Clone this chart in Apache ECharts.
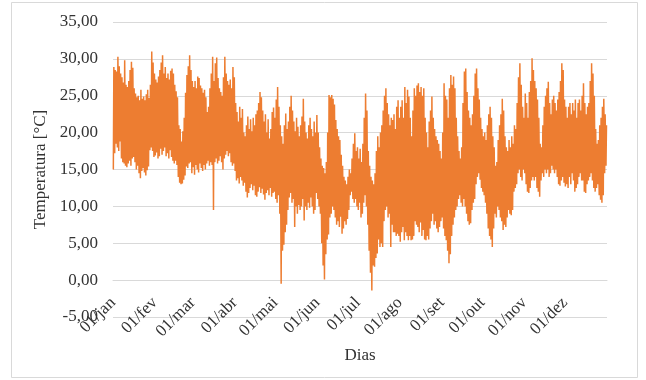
<!DOCTYPE html>
<html>
<head>
<meta charset="utf-8">
<script src="https://cdn.jsdelivr.net/npm/echarts@6/dist/echarts.min.js"></script>
<style>
  html, body { margin: 0; padding: 0; background: #ffffff; }
  #chart { width: 646px; height: 380px; }
</style>
</head>
<body>
<div id="chart"></div>
<script>
// Month tick labels and the day of the year each month starts on
const monthLabels = ['01/jan', '01/fev', '01/mar', '01/abr', '01/mai', '01/jun',
                     '01/jul', '01/ago', '01/set', '01/out', '01/nov', '01/dez'];
const monthStarts = [0, 31, 59, 90, 120, 151, 181, 212, 243, 273, 304, 334];
const daysInYear = 365;

// Temperature axis range (°C)
const tempMin = -5;
const tempMax = 35;
const tempStep = 5;

// Daily maximum / minimum temperatures (°C), one array per month
const janMax = [28.9, 28.5, 28.3, 30.3, 29.0, 28.0, 27.5, 26.8, 29.8, 26.5, 26.2, 27.0, 28.5, 29.6, 28.8, 26.0,
                25.3, 24.8, 25.0, 24.4, 25.8, 24.6, 24.9, 24.4, 25.2, 25.8, 24.7, 26.5, 31.0, 29.5, 28.0];
const janMin = [15.0, 17.2, 18.5, 18.0, 17.5, 18.8, 16.5, 16.0, 15.8, 15.5, 15.3, 15.8, 16.2, 15.5, 16.5, 16.7,
                16.0, 15.0, 15.5, 14.5, 13.8, 14.8, 15.2, 14.6, 14.2, 14.9, 15.4, 17.6, 18.0, 17.5, 16.7];

const fevMax = [27.2, 26.8, 27.6, 28.5, 29.5, 30.5, 28.0, 28.9, 27.4, 28.0, 27.2, 28.4, 28.7, 28.0,
                26.5, 25.6, 24.8, 21.0, 20.5, 18.8, 20.2, 22.0, 25.4, 27.8, 29.0, 30.5, 28.5, 27.0];
const fevMin = [16.9, 17.3, 16.5, 16.8, 17.8, 17.0, 17.5, 18.0, 16.8, 17.2, 16.5, 17.6, 16.7, 16.2,
                15.8, 16.2, 15.6, 14.0, 13.2, 13.0, 13.1, 13.6, 14.2, 15.4, 15.2, 15.8, 16.0, 14.5];

const marMax = [26.2, 27.0, 26.0, 27.6, 27.4, 26.4, 26.0, 25.4, 25.8, 24.8, 22.8, 23.5, 26.0, 28.0, 30.3, 27.0,
                29.4, 30.2, 27.4, 26.0, 25.5, 25.0, 27.5, 30.3, 28.0, 27.0, 26.5, 27.2, 26.0, 28.9, 27.5];
const marMin = [15.3, 14.3, 15.6, 15.0, 14.6, 15.8, 15.2, 14.8, 15.6, 15.0, 15.8, 16.2, 15.5, 16.0, 15.6, 9.5,
                16.0, 16.5, 15.8, 16.2, 16.8, 16.0, 15.0, 16.5, 17.0, 17.5, 16.8, 17.2, 16.0, 15.5, 15.8];

const abrMax = [24.0, 22.8, 21.5, 23.5, 22.0, 23.2, 20.0, 19.5, 21.0, 22.2, 20.5, 21.8, 20.2, 22.0, 21.0,
                22.5, 23.0, 24.0, 25.5, 24.8, 23.0, 21.5, 22.5, 20.0, 21.8, 19.2, 20.5, 22.8, 23.4, 22.0];
const abrMin = [14.8, 13.5, 13.8, 13.1, 14.0, 13.5, 12.8, 13.2, 12.0, 11.2, 11.8, 12.5, 13.0, 12.2, 12.8,
                11.5, 11.3, 12.0, 12.6, 11.8, 12.4, 11.6, 10.9, 11.8, 12.2, 11.5, 12.5, 11.3, 11.8, 12.0];

const maiMax = [24.5, 26.2, 23.5, 21.0, 19.5, 18.5, 21.0, 22.6, 20.5, 21.5, 23.5, 25.0, 23.0, 21.5, 20.2, 22.0,
                20.8, 19.5, 21.0, 22.2, 24.6, 21.5, 20.0, 19.2, 21.0, 22.0, 20.5, 19.5, 21.5, 20.0, 22.4];
const maiMin = [11.0, 10.5, 11.5, 9.0, -0.5, 4.0, 4.8, 6.5, 7.5, 9.5, 11.2, 11.8, 10.5, 11.0, 7.2, 10.0,
                9.0, 10.2, 9.5, 10.0, 11.0, 8.1, 10.0, 9.5, 10.5, 9.8, 11.2, 10.0, 9.0, 9.5, 11.8];

const junMax = [20.0, 18.0, 16.5, 15.5, 15.2, 14.5, 16.0, 20.0, 25.1, 24.8, 25.1, 24.6, 23.8, 21.7, 20.5,
                19.5, 19.0, 17.0, 15.5, 14.0, 13.5, 13.0, 14.0, 15.0, 14.5, 16.5, 18.5, 19.9, 17.5, 18.0];
const junMin = [11.0, 10.0, 9.0, 5.0, 2.0, 0.1, 3.5, 5.5, 6.2, 8.5, 9.0, 10.0, 9.5, 8.5, 7.5,
                8.0, 7.2, 8.6, 6.3, 7.0, 8.0, 7.5, 8.3, 9.5, 11.5, 12.0, 11.0, 10.5, 11.0, 10.0];

const julMax = [16.5, 17.8, 16.0, 18.5, 22.0, 25.3, 23.0, 17.5, 15.5, 14.0, 13.5, 13.0, 14.5, 17.5, 19.5, 18.0,
                20.0, 21.0, 23.0, 25.0, 26.0, 24.0, 22.5, 21.0, 22.0, 21.7, 22.5, 20.5, 23.5, 24.4, 22.0];
const julMin = [9.5, 10.5, 8.5, 9.0, 10.5, 11.5, 10.0, 7.5, 4.0, 1.0, -1.4, 2.0, 1.8, 3.0, 3.6, 5.5,
                4.5, 5.0, 4.5, 8.0, 9.5, 10.0, 8.5, 9.0, 4.5, 7.5, 6.5, 6.5, 6.0, 6.3, 6.0];

const agoMax = [23.5, 24.4, 22.0, 26.2, 24.0, 25.8, 24.9, 22.0, 19.5, 23.0, 26.0, 25.0, 26.4, 26.7, 25.5, 26.2,
                25.0, 26.0, 22.0, 20.0, 18.0, 21.5, 23.0, 24.9, 22.0, 20.5, 19.5, 19.0, 18.5, 17.5, 16.5];
const agoMin = [5.2, 6.5, 7.2, 5.4, 6.5, 6.0, 5.4, 6.0, 5.4, 5.5, 6.0, 8.0, 7.5, 7.2, 6.5, 7.8,
                6.0, 6.8, 5.5, 5.4, 6.0, 5.5, 7.0, 8.0, 9.0, 7.5, 8.0, 7.0, 6.5, 7.2, 8.0];

const setMax = [20.0, 26.7, 25.0, 24.5, 22.0, 26.0, 27.8, 26.5, 27.6, 26.0, 22.0, 19.5, 17.5, 16.5, 18.0,
                24.0, 28.3, 28.7, 25.5, 23.0, 22.0, 21.0, 22.5, 25.0, 28.0, 28.7, 26.0, 24.5, 22.0, 20.5];
const setMin = [8.5, 7.0, 6.0, 5.4, 4.0, 2.3, 3.5, 6.0, 7.5, 8.5, 9.5, 10.0, 11.0, 11.5, 10.5,
                10.0, 11.0, 10.0, 9.0, 8.0, 7.5, 7.7, 9.5, 10.5, 11.0, 13.0, 14.0, 14.5, 13.6, 12.5];

const outMax = [19.5, 20.0, 19.0, 21.0, 22.5, 23.5, 22.0, 19.5, 18.0, 15.5, 16.0, 19.0, 21.0, 22.5, 24.6, 23.0,
                19.5, 18.0, 17.5, 19.0, 18.0, 19.5, 18.5, 21.0, 20.5, 24.0, 27.5, 29.4, 26.5, 23.5, 22.0];
const outMin = [12.0, 11.5, 10.5, 9.0, 7.0, 6.0, 5.5, 4.5, 7.0, 9.0, 8.5, 10.0, 9.5, 8.5, 8.0, 6.8,
                7.5, 7.2, 8.5, 9.5, 9.0, 8.8, 9.5, 12.0, 12.5, 13.0, 14.5, 15.0, 14.0, 13.5, 15.0];

const novMax = [25.3, 24.0, 22.0, 25.5, 27.0, 30.1, 28.5, 27.0, 26.0, 24.5, 22.0, 18.5, 18.0, 21.0, 23.5,
                25.0, 26.0, 26.9, 24.0, 22.5, 24.5, 25.0, 24.0, 23.0, 24.5, 25.5, 27.0, 29.4, 28.5, 24.5];
const novMin = [14.5, 13.0, 12.0, 11.8, 12.5, 13.5, 14.0, 13.5, 14.0, 12.5, 12.0, 11.3, 13.5, 14.5, 14.0,
                15.0, 14.5, 15.0, 14.0, 14.5, 15.5, 15.0, 14.5, 15.0, 14.0, 13.0, 12.8, 13.5, 14.0, 13.2];

const dezMax = [23.5, 22.0, 23.5, 24.0, 22.5, 24.0, 23.0, 24.5, 22.0, 24.0, 24.5, 23.0, 25.0, 26.7, 24.0, 22.5,
                23.5, 24.0, 27.0, 29.4, 28.0, 25.0, 20.5, 18.5, 19.0, 21.0, 22.0, 23.5, 24.6, 22.5, 21.0];
const dezMin = [12.7, 13.0, 12.5, 14.0, 13.0, 14.5, 13.5, 12.0, 12.5, 13.0, 14.0, 14.5, 13.5, 13.5, 12.0, 11.8,
                13.0, 13.5, 14.0, 14.5, 13.5, 12.5, 12.0, 12.5, 13.0, 11.5, 10.9, 10.5, 11.5, 14.5, 15.5];

const dailyMax = [].concat(janMax, fevMax, marMax, abrMax, maiMax, junMax,
                           julMax, agoMax, setMax, outMax, novMax, dezMax);
const dailyMin = [].concat(janMin, fevMin, marMin, abrMin, maiMin, junMin,
                           julMin, agoMin, setMin, outMin, novMin, dezMin);

// Each day becomes an early-morning low followed by an afternoon high
const points = [];
dailyMin.forEach(function (low, day) {
  points.push([day + 0.25, low]);
  points.push([day + 0.625, dailyMax[day]]);
});

const serif = 'Liberation Serif';
const textColor = '#333333';
const gridColor = '#d9d9d9';

// Plot area in pixels
const plotTop = 22;
const plotBottom = 63;
const plotHeight = 380 - plotTop - plotBottom;
// The day axis crosses the temperature axis at 0 °C
const dayAxisOffset = -plotHeight * (0 - tempMin) / (tempMax - tempMin);

const chart = echarts.init(document.getElementById('chart'), null, { renderer: 'canvas' });
chart.setOption({
  animation: false,
  backgroundColor: '#ffffff',
  grid: { left: 113, right: 39, top: plotTop, bottom: plotBottom, containLabel: false, outerBoundsMode: 'none' },
  xAxis: {
    type: 'value',
    min: 0,
    max: daysInYear,
    offset: dayAxisOffset,
    axisLine: { show: true, onZero: false, lineStyle: { color: gridColor, width: 1 } },
    axisTick: { show: false },
    splitLine: { show: false },
    axisLabel: {
      customValues: monthStarts,
      formatter: function (v) { return monthLabels[monthStarts.indexOf(v)] || ''; },
      rotate: 45,
      margin: 20,
      fontFamily: serif,
      fontSize: 17,
      color: textColor
    },
    name: 'Dias',
    nameLocation: 'middle',
    nameGap: 60,
    nameTextStyle: { fontFamily: serif, fontSize: 17, color: textColor }
  },
  yAxis: {
    type: 'value',
    min: tempMin,
    max: tempMax,
    interval: tempStep,
    axisLine: { show: false },
    axisTick: { show: false },
    splitLine: { show: true, lineStyle: { color: gridColor, width: 1 } },
    axisLabel: {
      formatter: function (v) { return v.toFixed(2).replace('.', ','); },
      margin: 15,
      fontFamily: serif,
      fontSize: 17,
      color: textColor
    },
    name: 'Temperatura [°C]',
    nameLocation: 'middle',
    nameGap: 60,
    nameTextStyle: { fontFamily: serif, fontSize: 17, color: textColor }
  },
  series: [{
    type: 'line',
    data: points,
    showSymbol: false,
    symbol: 'none',
    silent: true,
    lineStyle: { color: '#ed7d31', width: 1.5 }
  }],
  graphic: [{
    type: 'rect',
    silent: true,
    shape: { x: 11.5, y: 2.5, width: 626, height: 375 },
    style: { fill: 'none', stroke: gridColor, lineWidth: 1 }
  }]
});
</script>
</body>
</html>
